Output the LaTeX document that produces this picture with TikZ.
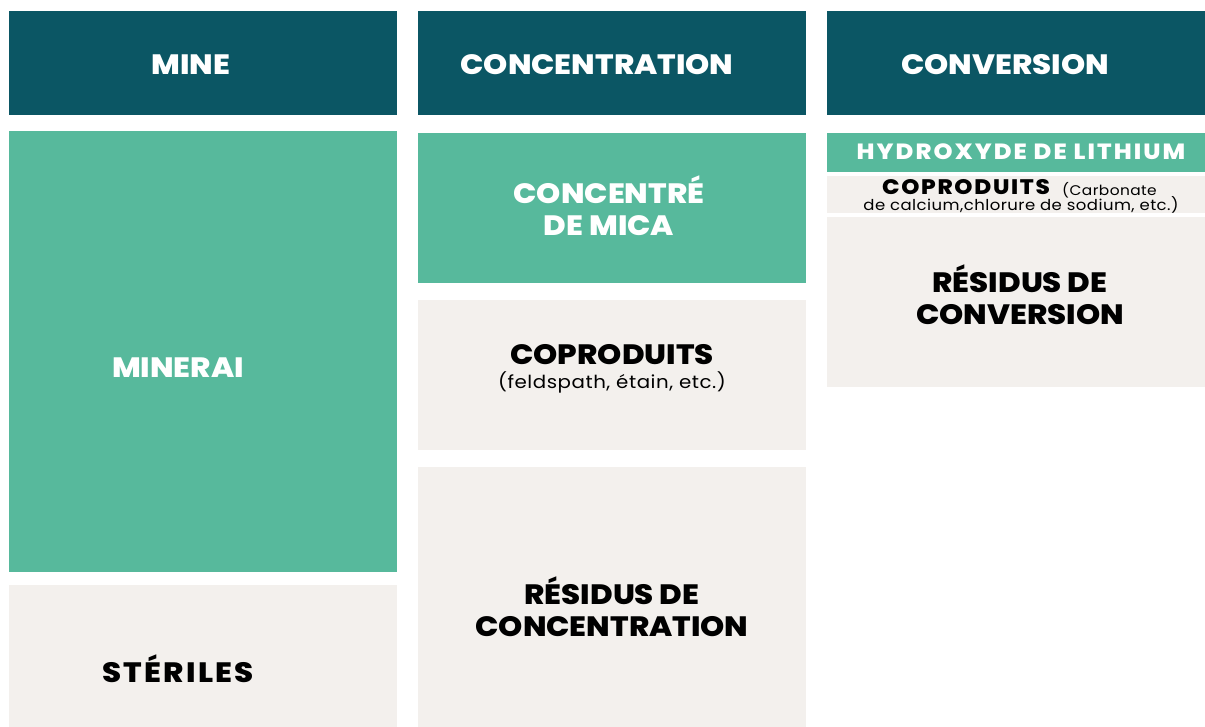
\documentclass[tikz,border=0pt]{standalone}
\usepackage{fontspec}
\setmainfont{Poppins}
\newfontfamily\lourd{Poppins ExtraBold}[FakeStretch=1.1]
\newfontfamily\lourdlarge{Poppins ExtraBold}[FakeStretch=1.1, LetterSpace=8]
\newfontfamily\fin{Poppins}[FakeStretch=1.1, LetterSpace=3]
\definecolor{entete}{HTML}{0B5664}
\definecolor{vert}{HTML}{57B99C}
\definecolor{beige}{HTML}{F3F0ED}
\tikzset{
 titre/.style={text=white, inner sep=0pt, font=\fontsize{28}{32}\selectfont\lourd},
 gras/.style={text=black, inner sep=0pt, align=center, font=\fontsize{28}{32}\selectfont\lourd},
 blanc/.style={gras, text=white},
 petit/.style={text=black, inner sep=0pt, font=\fontsize{18}{20}\selectfont\fin}
}
\begin{document}
\begin{tikzpicture} [x=1pt,y=-1pt]
\useasboundingbox (0,0) rectangle (1205,727);
\foreach \xa/\xb in {9/397,418/806,827/1205} {
 \fill[entete] (\xa,11) rectangle (\xb,115);
}
\fill[vert] (9,131) rectangle (397,572);
\fill[beige] (9,585) rectangle (397,727);
\fill[vert] (418,133) rectangle (806,283);
\foreach \ya/\yb in {300/450,467/727} {
 \fill[beige] (418,\ya) rectangle (806,\yb);
}
\fill[vert] (827,133) rectangle (1205,172);
\foreach \ya/\yb in {176/213,217/387} {
 \fill[beige] (827,\ya) rectangle (1205,\yb);
}
% en-tetes
\node[titre] (mine) at (191,65) {MINE};
\node[titre] (concentration) at (597,65) {CONCENTRATION};
\node[titre] (conversion) at (1005,65) {CONVERSION};
% mine
\node[blanc] (minerai) at (178,368) {MINERAI};
\node[gras, font=\fontsize{28}{32}\selectfont\lourdlarge] (steriles) at (178,669) {STÉRILES};
% concentration
\node[blanc] (mica) at (609,206) {CONCENTRÉ\\DE MICA};
\node[gras] (coprod) at (612,355) {COPRODUITS};
\node[petit] (feldspath) at (612,382) {(feldspath, étain, etc.)};
\node[gras] (residusconc) at (612,607) {RÉSIDUS DE\\CONCENTRATION};
% conversion
\node[blanc, font=\fontsize{22}{24}\selectfont\lourd\addfontfeature{LetterSpace=9.5}] (lithium) at (1021,152) {HYDROXYDE DE LITHIUM};
\node[gras, font=\fontsize{21}{21}\selectfont\lourdlarge] (coprodconv) at (966,187) {COPRODUITS};
\node[petit, font=\fontsize{14}{16}\selectfont\fin, anchor=west] (carbonate) at (1062,190) {(Carbonate};
\node[petit, font=\fontsize{15}{16}\selectfont\fin] (calcium) at (1021,205) {de calcium,chlorure de sodium, etc.)};
\node[gras] (residusconv) at (1020,295) {RÉSIDUS DE\\CONVERSION};
\end{tikzpicture}
\end{document}
